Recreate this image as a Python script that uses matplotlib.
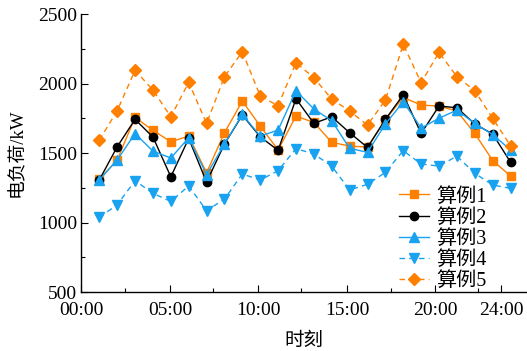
import matplotlib
matplotlib.use("Agg")
import matplotlib.pyplot as plt
from matplotlib.ticker import FixedLocator

plt.rcParams['font.family'] = ['Liberation Serif', 'Noto Sans CJK SC', 'DejaVu Sans']
plt.rcParams['font.weight'] = 'light'

hours = list(range(1, 25))
case1 = [1311, 1450, 1757, 1663, 1581, 1622, 1358, 1646, 1874, 1694, 1522, 1766,
         1720, 1577, 1550, 1543, 1740, 1900, 1845, 1838, 1802, 1641, 1446, 1335]
case2 = [1306, 1545, 1742, 1615, 1329, 1605, 1291, 1565, 1773, 1617, 1519, 1891,
         1713, 1761, 1646, 1540, 1742, 1919, 1641, 1838, 1826, 1709, 1637, 1434]
case3 = [1306, 1450, 1640, 1514, 1464, 1610, 1344, 1565, 1778, 1622, 1665, 1948,
         1817, 1732, 1534, 1505, 1709, 1869, 1680, 1750, 1809, 1713, 1633, 1522]
case4 = [1037, 1128, 1301, 1210, 1152, 1263, 1085, 1169, 1349, 1306, 1373, 1532,
         1493, 1406, 1234, 1275, 1361, 1517, 1421, 1406, 1478, 1354, 1270, 1246]
case5 = [1593, 1804, 2095, 1953, 1761, 2008, 1713, 2049, 2229, 1910, 1840, 2150,
         2042, 1888, 1802, 1701, 1881, 2282, 2006, 2224, 2049, 1948, 1750, 1552]
labels = ['算例1', '算例2', '算例3', '算例4', '算例5']
xtick_pos = [0, 4.95, 9.88, 14.85, 19.77, 23.46]
xtick_labels = ['00:00', '05:00', '10:00', '15:00', '20:00', '24:00']
xminor_pos = [2.45, 7.37, 12.3, 17.3, 22.2]

orange = '#FF8000'
blue = '#19A2F0'

fig = plt.figure(figsize=(5.27, 3.51), dpi=100)
ax = fig.add_axes([0.1545, 0.168, 0.8455, 0.792])

ax.plot(hours, case1, '-', color=orange, marker='s', ms=6, lw=1.0, label=labels[0])
ax.plot(hours, case2, '-', color='black', marker='o', ms=6, lw=1.0, label=labels[1])
ax.plot(hours, case3, '-', color=blue, marker='^', ms=7, lw=1.0, label=labels[2])
ax.plot(hours, case4, '--', color=blue, marker='v', ms=7, lw=1.0, dashes=(4, 3), label=labels[3])
ax.plot(hours, case5, '--', color=orange, marker='D', ms=6, lw=1.0, dashes=(4, 3), label=labels[4])

ax.set_xlim(0, 24.92)
ax.set_ylim(500, 2500)
ax.set_yticks([500, 1000, 1500, 2000, 2500])
ax.yaxis.set_minor_locator(FixedLocator([750, 1250, 1750, 2250]))
ax.set_xticks(xtick_pos)
ax.set_xticklabels(xtick_labels)
ax.xaxis.set_minor_locator(FixedLocator(xminor_pos))

for s in ['top', 'right']:
    ax.spines[s].set_visible(False)
for s in ['left', 'bottom']:
    ax.spines[s].set_linewidth(1.0)

ax.tick_params(axis='both', which='major', direction='in', length=5, labelsize=14, width=0.8)
ax.tick_params(axis='both', which='minor', direction='in', length=3, width=0.8)
ax.tick_params(axis='x', pad=7)
ax.tick_params(axis='y', pad=3)

ax.set_xlabel('时刻', fontsize=14, labelpad=10)
ax.set_ylabel('电负荷/kW', fontsize=13.5, labelpad=9)

leg = ax.legend(loc='center left', bbox_to_anchor=(0.69, 0.19), frameon=False, fontsize=14.5,
                handlelength=1.5, labelspacing=0.1, handletextpad=0.35, borderpad=0.0)

fig.savefig('out.png', dpi=100)
